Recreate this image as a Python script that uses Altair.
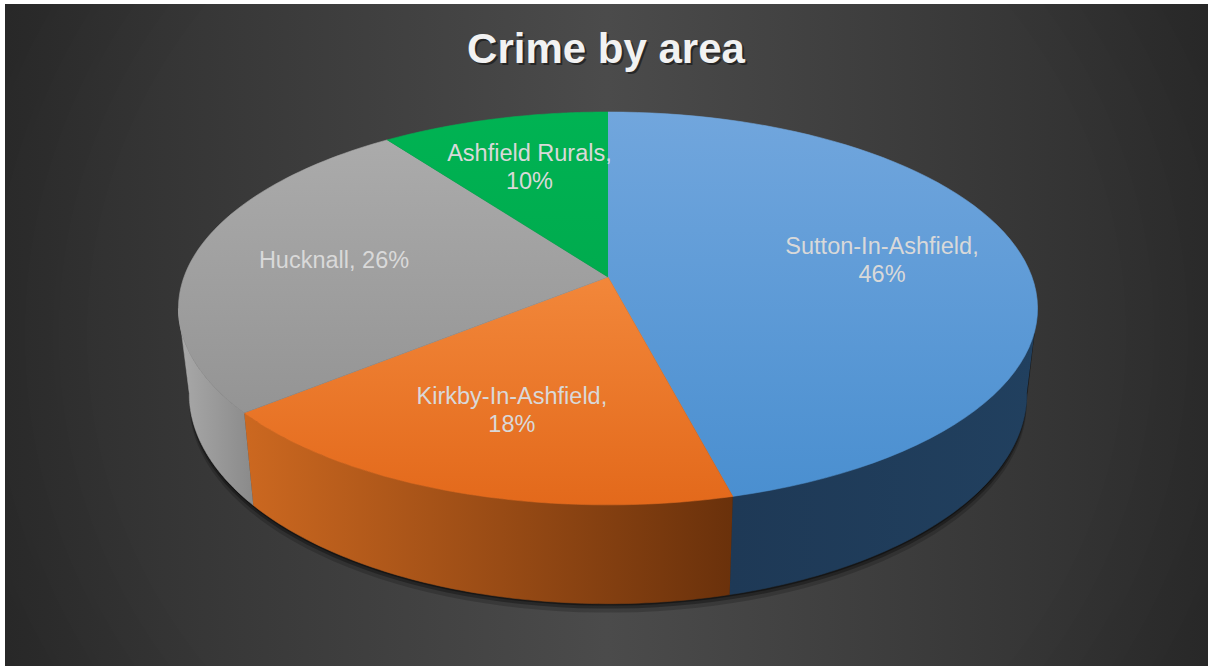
import math
import altair as alt
import pandas as pd

# ---- data ----
areas = ["Sutton-In-Ashfield", "Kirkby-In-Ashfield", "Hucknall", "Ashfield Rurals"]
shares = [46, 18, 26, 10]
title_text = "Crime by area"

# ---- styles ----
top_colors = [["#71a6dd", "#4a8fd0"], ["#f2873a", "#e3691b"], ["#ababab", "#949494"], ["#00b353", "#00ab4e"]]
side_colors = [["#1e3956", "#21405f"], ["#cc6820", "#6a310b"], ["#a9a9a9", "#8a8a8a"], ["#008a3e", "#006a30"]]
label_color = "#d9d9d9"

W, H = 1208, 668
CX, CY = 608, 277          # pie centre on screen
R, RV = 424, 191.4         # horizontal / vertical radius
S = 0.16                   # perspective strength
D0 = 83                    # pie thickness
SH = 0.975                 # bottom-edge horizontal shrink (perspective)
N = 72                     # arc resolution
LF = 0.66                  # label radius fraction
LH = 28                    # label line height
LO = math.acos(-S)
HI = 2 * math.pi - LO

labels = [f"{a},\n{s}%" if len(a) > 10 else f"{a}, {s}%" for a, s in zip(areas, shares)]
df = pd.DataFrame({"area": areas, "share": shares, "idx": list(range(len(areas))), "label": labels})

xs = alt.Scale(domain=[0, W], nice=False, zero=False)
ys = alt.Scale(domain=[0, H], nice=False, zero=False, reverse=True)
X = alt.X("X:Q", scale=xs, axis=None)
Y = alt.Y("Y:Q", scale=ys, axis=None)


def lin(c, horiz):
    return {"gradient": "linear", "x1": 0, "y1": 0,
            "x2": 1 if horiz else 0, "y2": 0 if horiz else 1,
            "stops": [{"offset": 0, "color": c[0]}, {"offset": 1, "color": c[1]}]}


base = (alt.Chart(df)
        .transform_window(cum="sum(share)", sort=[alt.SortField("idx")])
        .transform_calculate(a0="(datum.cum - datum.share) / 100 * 2 * PI")
        .transform_calculate(a1="datum.cum / 100 * 2 * PI"))


def project(ch, extra_depth=0):
    return (ch.transform_calculate(u="datum.rad * sin(datum.ang)")
              .transform_calculate(v="-datum.rad * cos(datum.ang)")
              .transform_calculate(den=f"1 - {S} * datum.v")
              .transform_calculate(X=f"{CX} + {R} * datum.u / datum.den * (datum.dep == 1 ? {SH} : 1)")
              .transform_calculate(Y=f"{CY} + {RV} * datum.v / datum.den + datum.dep * ({D0} / datum.den + {extra_depth})"))


# top faces
top = (base.transform_calculate(steps=f"sequence(0, {N + 2})")
           .transform_flatten(["steps"], as_=["k"])
           .transform_calculate(ang=f"datum.k == 0 ? 0 : datum.a0 + (datum.a1 - datum.a0) * (datum.k - 1) / {N}")
           .transform_calculate(rad="datum.k == 0 ? 0 : 1")
           .transform_calculate(dep="0"))
top = project(top)


def side_geom(ch, extra=0):
    ch = (ch.transform_filter("datum.s1 > datum.s0")
            .transform_calculate(steps=f"sequence(0, {2 * N})")
            .transform_flatten(["steps"], as_=["k"])
            .transform_calculate(dep=f"datum.k < {N} ? 0 : 1")
            .transform_calculate(ang=f"datum.k < {N} ? datum.s0 + (datum.s1 - datum.s0) * datum.k / {N - 1} : datum.s1 - (datum.s1 - datum.s0) * (datum.k - {N}) / {N - 1}")
            .transform_calculate(rad="1"))
    return project(ch, extra)


side = side_geom(base.transform_calculate(s0=f"max(datum.a0, {LO})")
                     .transform_calculate(s1=f"min(datum.a1, {HI})"))

layers = []

# background
bg_lin = {"gradient": "linear", "x1": 0, "y1": 0, "x2": 1, "y2": 0,
          "stops": [{"offset": 0, "color": "#2d2d2d"}, {"offset": 0.5, "color": "#4b4b4b"},
                    {"offset": 1, "color": "#2d2d2d"}]}
bg_rad = {"gradient": "radial", "x1": 0.5, "y1": 0.5, "r1": 0.42, "x2": 0.5, "y2": 0.5, "r2": 0.72,
          "stops": [{"offset": 0, "color": "rgba(0,0,0,0)"}, {"offset": 1, "color": "rgba(0,0,0,0.25)"}]}
one = alt.Chart(pd.DataFrame({"z": [0]}))
for g in (bg_lin, bg_rad):
    layers.append(one.mark_rect(fill=g).encode(x=alt.value(5), x2=alt.value(W), y=alt.value(4), y2=alt.value(666)))

# soft shadow under the pie
shadow_base = one.transform_calculate(s0=f"{LO}").transform_calculate(s1=f"{HI}")
for off, op in ((9, 0.18), (5, 0.3), (2, 0.4)):
    layers.append(side_geom(shadow_base, off).mark_line(filled=True, fill="#000000", fillOpacity=op, strokeWidth=0)
                  .encode(x=X, y=Y, order="k:Q"))

# sides
for i, a in enumerate(areas):
    g = lin(side_colors[i], True)
    layers.append(side.transform_filter(alt.datum.area == a)
                  .mark_line(filled=True, fill=g, stroke=g, strokeWidth=0.6)
                  .encode(x=X, y=Y, order="k:Q"))

# tops
for i, a in enumerate(areas):
    g = lin(top_colors[i], False)
    layers.append(top.transform_filter(alt.datum.area == a)
                  .mark_line(filled=True, fill=g, stroke=g, strokeWidth=0.6)
                  .encode(x=X, y=Y, order="k:Q"))

# labels (multi-line blocks centred on their anchor)
lab = (base.transform_calculate(ang="(datum.a0 + datum.a1) / 2")
           .transform_calculate(rad=f"{LF}")
           .transform_calculate(dep="0"))
lab = project(lab).transform_calculate(
    Yc=f"datum.Y - (indexof(datum.label, '\\n') >= 0 ? {LH / 2} : 0)")
layers.append(lab.mark_text(lineBreak="\n", fontSize=23.5, font="Liberation Sans", color=label_color,
                            lineHeight=LH, align="center", baseline="middle")
              .encode(x=X, y=alt.Y("Yc:Q", scale=ys, axis=None), text="label:N"))

# title with shadow
tdf = alt.Chart(pd.DataFrame({"t": [title_text]}))
layers.append(tdf.mark_text(fontSize=42, font="Liberation Sans", fontWeight="bold", color="#000000", opacity=0.45,
                            align="center", baseline="alphabetic")
              .encode(x=alt.value(608), y=alt.value(65), text="t:N"))
layers.append(tdf.mark_text(fontSize=42, font="Liberation Sans", fontWeight="bold", color="#f2f2f2",
                            align="center", baseline="alphabetic")
              .encode(x=alt.value(606), y=alt.value(63), text="t:N"))

chart = (alt.layer(*layers)
         .properties(width=W, height=H, autosize=alt.AutoSizeParams(type="none"), padding=0, background="#ffffff")
         .configure_view(strokeWidth=0))

chart.save("out.html", embed_options={"renderer": "svg", "actions": False})
